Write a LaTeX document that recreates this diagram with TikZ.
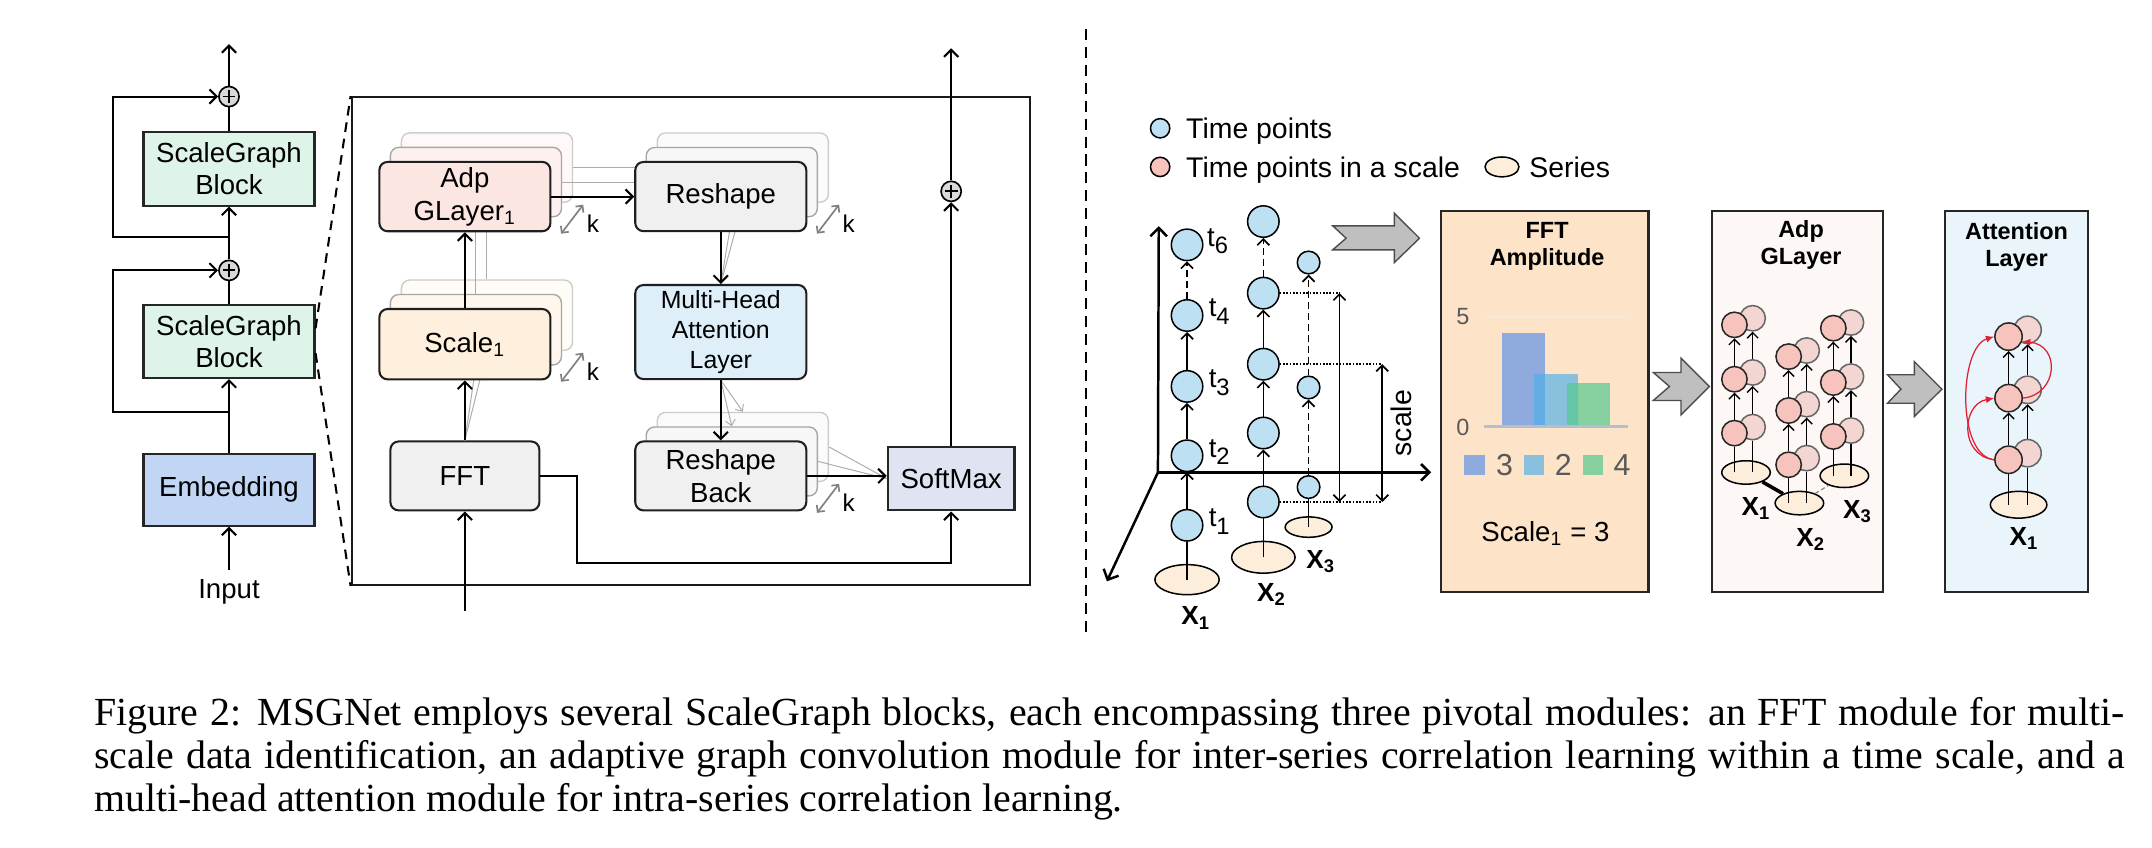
\documentclass[tikz,border=0pt]{standalone}
\usepackage{fontspec}
\setmainfont{Liberation Serif}
\setsansfont{Liberation Sans}
\usetikzlibrary{arrows.meta,shapes.geometric}
\definecolor{sgfill}{RGB}{222,244,233}
\definecolor{embfill}{RGB}{193,214,244}
\definecolor{adpfill}{RGB}{252,230,226}
\definecolor{sclfill}{RGB}{255,240,222}
\definecolor{gryfill}{RGB}{240,240,240}
\definecolor{mhafill}{RGB}{222,239,250}
\definecolor{smfill}{RGB}{223,227,242}
\definecolor{plusfill}{RGB}{217,217,217}
\definecolor{tpblue}{RGB}{189,224,243}
\definecolor{tppink}{RGB}{246,196,188}
\definecolor{tppinkb}{RGB}{243,214,210}
\definecolor{serfill}{RGB}{253,238,219}
\definecolor{fftpanel}{RGB}{253,227,200}
\definecolor{adppanel}{RGB}{253,247,245}
\definecolor{attpanel}{RGB}{234,244,251}
\definecolor{barA}{RGB}{143,170,220}
\definecolor{barB}{RGB}{76,175,233}
\definecolor{barC}{RGB}{84,201,143}
\definecolor{chevfill}{RGB}{191,191,191}
\definecolor{axgray}{RGB}{89,89,89}
\definecolor{attred}{RGB}{225,30,50}
\definecolor{gridc}{RGB}{245,232,220}
\definecolor{axisc}{RGB}{180,190,205}
\tikzset{
  base/.style={inner sep=0pt, align=center},
  sg/.style={base, draw=black!85, line width=0.75pt, minimum width=62pt, minimum height=26.5pt, font=\sffamily\fontsize{10}{11.5}\selectfont},
  rbox/.style={base, draw=black!88, line width=0.75pt, rounded corners=3pt, minimum width=62pt, font=\sffamily\fontsize{10}{12}\selectfont},
  shd/.style={base, rounded corners=3pt, line width=0.5pt},
  arr/.style={line width=0.75pt, -{Straight Barb[length=2.6pt,width=5.2pt]}},
  ln/.style={line width=0.75pt},
  gline/.style={draw=gray!65, line width=0.35pt},
  garr/.style={gline, -{Straight Barb[length=2pt,width=3.6pt]}},
  karr/.style={draw=gray, line width=0.6pt, {Straight Barb[length=1.8pt,width=3.6pt]}-{Straight Barb[length=1.8pt,width=3.6pt]}},
  kfont/.style={base, font=\sffamily\fontsize{8.8}{10}\selectfont},
  plus/.style={circle, draw=black, fill=plusfill, line width=0.6pt, minimum size=7.3pt, inner sep=0pt,
    path picture={\draw[line width=0.65pt] ([xshift=-2.3pt]path picture bounding box.center) -- ([xshift=2.3pt]path picture bounding box.center) ([yshift=-2.3pt]path picture bounding box.center) -- ([yshift=2.3pt]path picture bounding box.center);}},
  zd/.style={line width=0.75pt, dash pattern=on 3.5pt off 2.5pt},
  sep/.style={line width=0.75pt, dash pattern=on 4pt off 2.5pt},
  tp/.style={circle, draw=black, line width=0.55pt, fill=tpblue, minimum size=11.4pt, inner sep=0pt},
  tps/.style={tp, minimum size=8.2pt},
  ser/.style={ellipse, draw=black, fill=serfill, line width=0.55pt, inner sep=0pt, minimum width=23.3pt, minimum height=10.9pt},
  legtxt/.style={base, font=\sffamily\fontsize{10.3}{12}\selectfont},
  tl/.style={base, font=\sffamily\fontsize{10}{12}\selectfont},
  xl/.style={base, font=\sffamily\bfseries\fontsize{9.5}{11}\selectfont},
  ax/.style={line width=0.9pt, -{Straight Barb[length=3pt,width=6pt]}},
  cl/.style={line width=0.6pt},
  ca/.style={cl, -{Straight Barb[length=2.2pt,width=4.4pt]}},
  cad/.style={ca, dash pattern=on 2.5pt off 1.5pt},
  dl/.style={line width=0.5pt, dash pattern=on 0.6pt off 0.6pt},
  dbl/.style={line width=0.6pt, {Straight Barb[length=2.2pt,width=4.4pt]}-{Straight Barb[length=2.2pt,width=4.4pt]}},
  chev/.style={fill=chevfill, draw=black!70, line width=0.5pt},
  panel/.style={base, draw=black!85, line width=0.8pt},
  ttl/.style={base, font=\sffamily\bfseries\fontsize{8.5}{10}\selectfont},
  pk/.style={circle, draw=black!85, line width=0.55pt, fill=tppink, minimum size=9.2pt, inner sep=0pt},
  pkb/.style={pk, fill=tppinkb, draw=black!60},
  gser/.style={ser, minimum width=17.6pt, minimum height=8.5pt},
  parr/.style={line width=0.5pt, -{Straight Barb[length=2pt,width=4pt]}},
  pl/.style={line width=0.5pt},
  redarr/.style={draw=attred, line width=0.45pt, -{Latex[length=3pt,width=2.6pt]}},
  capt/.style={inner sep=0pt, font=\rmfamily\fontsize{14.45}{16}\selectfont}
}
\newcommand{\shadowpair}[6]{%
  \node[shd, fill=#6!25!white, draw=gray!40, minimum width=#4, minimum height=#5] (#1S2) at (#2+16,#3-21) {};
  \node[shd, fill=#6!55!white, draw=gray!70, minimum width=#4, minimum height=#5] (#1S1) at (#2+8,#3-10.5) {};
}
\newcommand{\kmark}[1]{%
  \draw[karr] ([xshift=3.5pt,yshift=-0.5pt]#1.south east) -- ([xshift=11.5pt,yshift=10pt]#1.south east);
  \node[kfont] (#1k) at ([xshift=15pt,yshift=3pt]#1.south east) {k};
}
\newcommand{\tsb}[1]{\raisebox{-0.28em}{\fontsize{8.6}{9}\selectfont #1}}
\begin{document}
\begin{tikzpicture}[x=0.5pt,y=-0.5pt, font=\sffamily\fontsize{10}{12}\selectfont]
\useasboundingbox (0,0) rectangle (1560,614.7);
\fill[white] (0,0) rectangle (1560,614.7);

% ---------------- left stack
\node[sg, fill=sgfill] (b1) at (166,122.5) {ScaleGraph\\Block};
\node[sg, fill=sgfill] (b2) at (166,247.5) {ScaleGraph\\Block};
\node[sg, fill=embfill, minimum height=26pt] (emb) at (166,355) {Embedding};
\node[plus] (p1) at (166,70) {};
\node[plus] (p2) at (166,196) {};
\node[base] (inp) at (166,429) {Input};
\coordinate (inb) at (166,413);
\coordinate (outl) at (166,32);
\coordinate (l1) at (166,172);
\coordinate (l2) at (166,299);
\draw[arr] (inb) -- (emb);
\draw[arr] (emb) -- (b2);
\draw[ln] (b2) -- (p2);
\draw[arr] (p2) -- (b1);
\draw[ln] (b1) -- (p1);
\draw[arr] (p1) -- (outl);
\draw[arr] (l2) -- ++(-84,0) |- (p2.west);
\draw[arr] (l1) -- ++(-84,0) |- (p1.west);

% ---------------- zoomed block
\node[draw=black!90, line width=0.85pt, minimum width=245.9pt, minimum height=176.75pt, inner sep=0pt] (big) at (500.9,247.25) {};
\draw[zd] ([yshift=4.75pt]b2.east) -- (big.north west);
\draw[zd] ([yshift=-4.25pt]b2.east) -- (big.south west);

\shadowpair{adp}{337}{142.5}{62pt}{25.15pt}{adpfill}
\shadowpair{scl}{337}{249.5}{62pt}{25.5pt}{sclfill}
\shadowpair{rsh}{522.5}{142.5}{62pt}{25.1pt}{gryfill}
\shadowpair{rb}{522.5}{345}{62pt}{25pt}{gryfill}

\node[rbox, fill=gryfill, minimum width=54pt, minimum height=25pt] (fft) at (337,345) {FFT};
\node[rbox, fill=mhafill, minimum height=34.1pt, font=\sffamily\fontsize{9}{11}\selectfont] (mha) at (522.5,240.7) {Multi-Head\\Attention\\Layer};
\node[base, draw=black!85, line width=0.75pt, fill=smfill, minimum width=45.9pt, minimum height=23pt] (sm) at (689.5,347) {SoftMax};

\draw[gline] (adpS1.east) -- (rshS1.west);
\draw[gline] (adpS2.east) -- (rshS2.west);
\draw[gline] (sclS1.north) -- (adpS1.south);
\draw[gline] (sclS2.north) -- (adpS2.south);
\draw[gline] (fft.north) -- (sclS1.south);
\draw[gline] (fft.north) -- (sclS2.south);
\draw[gline] (rshS1.south) -- (mha.north);
\draw[gline] (rshS2.south) -- (mha.north);
\draw[garr] (mha.south) -- (rbS1.north);
\draw[garr] (mha.south) -- (rbS2.north);
\draw[gline] (rbS1.east) -- (sm.west);
\draw[gline] (rbS2.east) -- (sm.west);

\node[rbox, fill=sclfill, minimum height=25.5pt] (scl) at (337,249.5) {Scale\textsubscript{1}};
\node[rbox, fill=adpfill, minimum height=25.15pt] (adp) at (337,142.5) {Adp\\GLayer\textsubscript{1}};
\node[rbox, fill=gryfill, minimum height=25.1pt] (rsh) at (522.5,142.5) {Reshape};
\node[rbox, fill=gryfill, minimum height=25pt] (rb) at (522.5,345) {Reshape\\Back};
\node[plus] (p3) at (689.5,138.7) {};

\coordinate (fin) at (337,443);
\coordinate (fo1) at (418.5,408);
\coordinate (outr) at (689.5,35);
\draw[arr] (fin) -- (fft);
\draw[arr] (fft) -- (scl);
\draw[arr] (scl) -- (adp);
\draw[arr] (adp) -- (rsh);
\draw[arr] (rsh) -- (mha);
\draw[arr] (mha) -- (rb);
\draw[arr] (rb.east) -- (rb.east -| sm.west);
\draw[arr] (fft.east) -| (fo1) -| (sm.south);
\draw[arr] (sm) -- (p3);
\draw[arr] (p3) -- (outr);

\kmark{adp}
\kmark{scl}
\kmark{rsh}
\kmark{rb}

% ---------------- separator
\coordinate (sepa) at (787,21);
\coordinate (sepb) at (787,462);
\draw[sep] (sepa) -- (sepb);

% ---------------- legend
\node[tp, minimum size=7pt] (lg1) at (841,93) {};
\node[legtxt, anchor=base west] (lg1t) at (859.5,100.4) {Time points};
\node[tp, fill=tppink, minimum size=7pt] (lg2) at (841,121) {};
\node[legtxt, anchor=base west] (lg2t) at (859.5,128.4) {Time points in a scale};
\node[ser, minimum width=12.3pt, minimum height=7.2pt] (lg3) at (1088.8,121) {};
\node[legtxt, anchor=base west] (lg3t) at (1108.3,128.4) {Series};

% ---------------- axes
\coordinate (O) at (839.4,342.4);
\coordinate (yax) at (840,164);
\coordinate (xax) at (1037.4,342.4);
\coordinate (zax) at (802.4,421.4);
\draw[ax] (O) -- (yax);
\draw[ax] (O) -- (xax);
\draw[ax] (O) -- (zax);

% column X1
\node[ser] (s1) at (860.5,420.2) {};
\node[tp] (a1) at (860.5,380.8) {};
\node[tp] (a2) at (860.5,330.4) {};
\node[tp] (a3) at (860.5,280.1) {};
\node[tp] (a4) at (860.5,228.7) {};
\node[tp] (a6) at (860.5,177.5) {};
\draw[cl] (s1.center) -- (a1);
\draw[ca] (a1) -- (a2);
\draw[ca] (a2) -- (a3);
\draw[ca] (a3) -- (a4);
\draw[cad] (a4) -- (a6);
\node[tl] (t6) at (882.6,174.9) {t\tsb{6}};
\node[tl] (t4) at (883.8,226) {t\tsb{4}};
\node[tl] (t3) at (883.8,277.5) {t\tsb{3}};
\node[tl] (t2) at (883.8,327.7) {t\tsb{2}};
\node[tl] (t1) at (883.8,378.2) {t\tsb{1}};
\node[xl] (x1l) at (867,448) {X\textsubscript{1}};

% column X2
\node[ser, minimum width=23pt, minimum height=11.5pt] (s2) at (915.8,404) {};
\node[tp] (c21) at (915.8,363.9) {};
\node[tp] (c22) at (915.8,313.9) {};
\node[tp] (c23) at (915.8,264) {};
\node[tp] (c24) at (915.8,212.5) {};
\node[tp] (c25) at (915.8,160.6) {};
\draw[cl] (s2.center) -- (c21);
\draw[ca] (c21) -- (c22);
\draw[ca] (c22) -- (c23);
\draw[ca] (c23) -- (c24);
\draw[cad] (c24) -- (c25);
\node[xl] (x2l) at (921.8,431.1) {X\textsubscript{2}};

% column X3
\node[ser, minimum width=17pt, minimum height=7.4pt] (s3) at (948.6,382.1) {};
\node[tps] (c31) at (948.6,353.1) {};
\node[tps] (c32) at (948.6,280.9) {};
\node[tps] (c33) at (948.6,190.3) {};
\draw[cl] (s3.center) -- (c31);
\draw[cad] (c31) -- (c32);
\draw[cad] (c32) -- (c33);
\node[xl] (x3l) at (957.5,406.9) {X\textsubscript{3}};

% scale markers
\coordinate (d1) at (971,212.5);
\coordinate (d1b) at (971,363.9);
\coordinate (d2) at (1002,264);
\coordinate (d3) at (1002,363.9);
\draw[dl] (c24.east) -- (d1);
\draw[dl] (c23.east) -- (d2);
\draw[dl] (c21.east) -- (d3);
\draw[dbl] (d1) -- (d1b);
\draw[dbl] (d2) -- (d3);
\node[base, rotate=90, font=\sffamily\fontsize{10.3}{12}\selectfont] (scalelab) at (1015.7,306.7) {scale};

% chevron arrows
\draw[chev] (966.1,163.7) -- (1010.8,163.7) -- (1010.8,154.6) -- (1029,172.7) -- (1010.8,190.3) -- (1010.8,181.1) -- (966.1,181.1) -- (975.8,172.7) -- cycle;
\draw[chev] (1198.5,270) -- (1218.6,270) -- (1218.6,259.7) -- (1239.1,280.2) -- (1218.6,300.7) -- (1218.6,290.3) -- (1198.5,290.3) -- (1210.2,280.2) -- cycle;
\draw[chev] (1368.3,271.7) -- (1387.7,271.7) -- (1387.7,262.1) -- (1407.7,282.1) -- (1387.7,301.9) -- (1387.7,292.3) -- (1368.3,292.3) -- (1378,282.1) -- cycle;

% ---------------- FFT amplitude panel
\node[panel, fill=fftpanel, minimum width=75.15pt, minimum height=138.35pt] (fftp) at (1119.85,291.05) {};
\node[ttl] (fftt) at (1121.5,178.7) {FFT\\Amplitude};
\draw[gridc, line width=0.6pt] (1076.1,230) -- (1180,230);
\fill[barA] (1088.9,241.1) rectangle (1120.3,309.2);
\fill[barB, opacity=0.655] (1112.3,271.2) rectangle (1143.7,309.2);
\fill[barC, opacity=0.7] (1136,277.8) rectangle (1167.4,309.2);
\draw[axisc, line width=0.8pt] (1076.1,309.2) -- (1180,309.2);
\node[base, text=axgray, font=\sffamily\fontsize{8.5}{10}\selectfont] (y5) at (1060.4,229.5) {5};
\node[base, text=axgray, font=\sffamily\fontsize{8.5}{10}\selectfont] (y0) at (1060.4,309.6) {0};
\fill[barA] (1061.6,329.7) rectangle (1076.6,344.2);
\fill[barB, opacity=0.655] (1104.6,329.7) rectangle (1119.6,344.2);
\fill[barC, opacity=0.7] (1147.3,329.7) rectangle (1162.3,344.2);
\node[base, text=axgray, font=\sffamily\fontsize{11}{12}\selectfont] (lgA) at (1090.6,337) {3};
\node[base, text=axgray, font=\sffamily\fontsize{11}{12}\selectfont] (lgB) at (1133.3,337) {2};
\node[base, text=axgray, font=\sffamily\fontsize{11}{12}\selectfont] (lgC) at (1175.8,337) {4};
\node[base] (sceq) at (1120.3,386.5) {Scale\textsubscript{1} = 3};

% ---------------- Adp GLayer panel
\node[panel, fill=adppanel, minimum width=62.05pt, minimum height=138.35pt] (adpp) at (1303.15,291.05) {};
\node[ttl] (adpt) at (1305.6,177.5) {Adp\\GLayer};
\node[gser] (ga) at (1265.7,342.5) {};
\node[gser] (gb) at (1304.4,364.7) {};
\node[gser] (gc) at (1337,344.9) {};
\draw[line width=1.3pt] (ga) -- (gb);
\draw[gray, line width=0.4pt, dash pattern=on 1.5pt off 1pt] (gb) -- (gc);
% back columns
\node[pkb] (gab1) at (1270.5,309.6) {};
\node[pkb] (gab2) at (1270.5,270) {};
\node[pkb] (gab3) at (1270.5,230.7) {};
\node[pkb] (gbb1) at (1309.7,332.1) {};
\node[pkb] (gbb2) at (1309.7,293) {};
\node[pkb] (gbb3) at (1309.7,254.1) {};
\node[pkb] (gcb1) at (1341.8,312.1) {};
\node[pkb] (gcb2) at (1341.8,273) {};
\node[pkb] (gcb3) at (1341.8,233.8) {};
\draw[pl] (gab1 |- ga) -- (gab1);
\draw[parr] (gab1) -- (gab2);
\draw[parr] (gab2) -- (gab3);
\draw[pl] (gbb1 |- gb) -- (gbb1);
\draw[parr] (gbb1) -- (gbb2);
\draw[parr] (gbb2) -- (gbb3);
\draw[pl] (gcb1 |- gc) -- (gcb1);
\draw[parr] (gcb1) -- (gcb2);
\draw[parr] (gcb2) -- (gcb3);
% front columns
\node[pk] (gaf1) at (1257.3,314) {};
\node[pk] (gaf2) at (1257.3,274.9) {};
\node[pk] (gaf3) at (1257.3,235.5) {};
\node[pk] (gbf1) at (1296.6,336.9) {};
\node[pk] (gbf2) at (1296.6,297.6) {};
\node[pk] (gbf3) at (1296.6,258.5) {};
\node[pk] (gcf1) at (1329,316.4) {};
\node[pk] (gcf2) at (1329,277.3) {};
\node[pk] (gcf3) at (1329,237.9) {};
\draw[pl] (gaf1 |- ga) -- (gaf1);
\draw[parr] (gaf1) -- (gaf2);
\draw[parr] (gaf2) -- (gaf3);
\draw[pl] (gbf1 |- gb) -- (gbf1);
\draw[parr] (gbf1) -- (gbf2);
\draw[parr] (gbf2) -- (gbf3);
\draw[pl] (gcf1 |- gc) -- (gcf1);
\draw[parr] (gcf1) -- (gcf2);
\draw[parr] (gcf2) -- (gcf3);
\node[xl] (gx1) at (1273,368.3) {X\textsubscript{1}};
\node[xl] (gx2) at (1312.8,391.3) {X\textsubscript{2}};
\node[xl] (gx3) at (1346.6,370.8) {X\textsubscript{3}};

% ---------------- Attention panel
\node[panel, fill=attpanel, minimum width=51.8pt, minimum height=138.35pt] (attp) at (1461.9,291.05) {};
\node[ttl] (attt) at (1461.8,179) {Attention\\Layer};
\node[ser, minimum width=20.5pt, minimum height=9.7pt] (ae) at (1463.3,365.9) {};
\node[pkb, minimum size=9.9pt] (ab1) at (1469.8,328.5) {};
\node[pkb, minimum size=9.9pt] (ab2) at (1469.8,282.6) {};
\node[pkb, minimum size=9.9pt] (ab3) at (1469.8,239.1) {};
\draw[pl] (ab1 |- ae) -- (ab1);
\draw[parr] (ab1) -- (ab2);
\draw[parr] (ab2) -- (ab3);
\node[pk, minimum size=9.9pt] (af1) at (1456,333.3) {};
\node[pk, minimum size=9.9pt] (af2) at (1456,288.6) {};
\node[pk, minimum size=9.9pt] (af3) at (1456,244) {};
\draw[pl] (af1 |- ae) -- (af1);
\draw[parr] (af1) -- (af2);
\draw[parr] (af2) -- (af3);
\draw[redarr] (af1.west) .. controls (1418,330) and (1420,252) .. (af3.west);
\draw[redarr] (af1.west) .. controls (1420,330) and (1422,293) .. (af2.west);
\draw[redarr] (af2.east) .. controls (1492,286) and (1494,250) .. (af3.-20);
\node[xl] (ax1) at (1467.4,390.1) {X\textsubscript{1}};

% ---------------- caption
\node[capt, anchor=base west] (cap1) at (68,526) {\makebox[736pt][s]{Figure 2: MSGNet employs several ScaleGraph blocks, each encompassing three pivotal modules: an FFT module for multi-}};
\node[capt, anchor=base west] (cap2) at (68,557) {\makebox[736pt][s]{scale data identification, an adaptive graph convolution module for inter-series correlation learning within a time scale, and a}};
\node[capt, anchor=base west] (cap3) at (68,588) {multi-head attention module for intra-series correlation learning.};
\end{tikzpicture}
\end{document}
